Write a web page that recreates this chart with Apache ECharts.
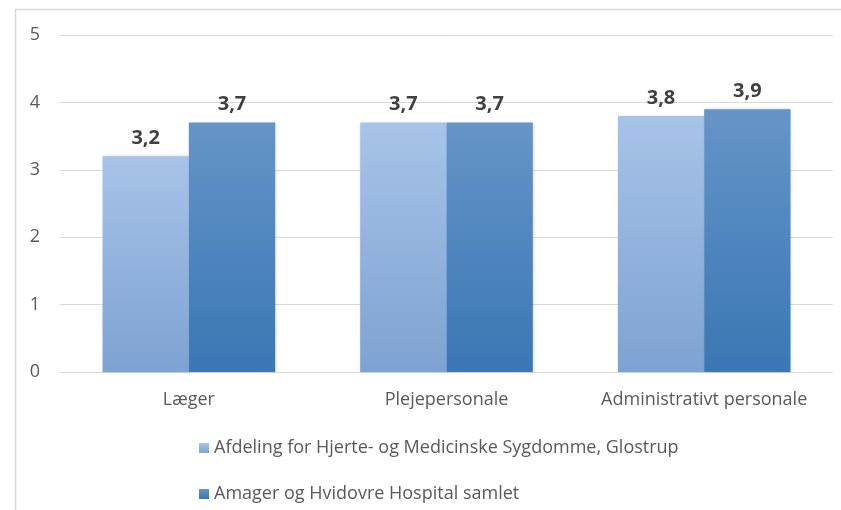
<!DOCTYPE html>
<html>
<head>
<meta charset="utf-8">
<script src="https://cdn.jsdelivr.net/npm/echarts@6/dist/echarts.min.js"></script>
<style>
  html, body { margin: 0; padding: 0; background: #fff; }
  #chart { width: 841px; height: 510px; }
</style>
</head>
<body>
<div id="chart"></div>
<script>
const categories = ['Læger', 'Plejepersonale', 'Administrativt personale']
const seriesNames = [
  'Afdeling for Hjerte- og Medicinske Sygdomme, Glostrup',
  'Amager og Hvidovre Hospital samlet'
]
const glostrupValues = [3.2, 3.7, 3.8]
const hospitalValues = [3.7, 3.7, 3.9]
const yTicks = [0, 1, 2, 3, 4, 5]

const fontFamily = '"Open Sans", Lato, sans-serif'

function gradient(top, bottom) {
  return new echarts.graphic.LinearGradient(0, 0, 0, 1, [
    { offset: 0, color: top },
    { offset: 1, color: bottom }
  ])
}

const chart = echarts.init(document.getElementById('chart'))

const labelStyle = {
  show: true,
  position: 'top',
  distance: 8,
  fontFamily,
  fontSize: 20,
  fontWeight: 'bold',
  color: '#404040',
  // danske decimaler med komma
  formatter: (p) => String(p.value).replace('.', ',')
}

chart.setOption({
  animation: false,
  textStyle: { fontFamily },
  graphic: [
    {
      type: 'rect',
      shape: { x: 15.5, y: 9.5, width: 900, height: 600 },
      style: { fill: 'none', stroke: '#d9d9d9', lineWidth: 1.5 },
      silent: true
    }
  ],
  grid: { left: 60, right: 8, top: 35, bottom: 138 },
  legend: {
    orient: 'vertical',
    left: 194,
    top: 434,
    itemWidth: 10,
    itemHeight: 10,
    itemGap: 28,
    icon: 'rect',
    textStyle: { fontFamily, fontSize: 18, color: '#595959' },
    data: seriesNames
  },
  xAxis: {
    type: 'category',
    data: categories,
    axisLine: { lineStyle: { color: '#d9d9d9', width: 1 } },
    axisTick: { show: false },
    axisLabel: { fontFamily, fontSize: 18, color: '#595959', margin: 19, interval: 0 }
  },
  yAxis: {
    type: 'value',
    min: yTicks[0],
    max: yTicks[yTicks.length - 1],
    interval: 1,
    axisLine: { show: false },
    axisTick: { show: false },
    axisLabel: { fontFamily, fontSize: 18, color: '#595959', margin: 20 },
    splitLine: { lineStyle: { color: '#d9d9d9', width: 1 } }
  },
  series: [
    {
      name: seriesNames[0],
      type: 'bar',
      data: glostrupValues,
      barGap: '0%',
      barCategoryGap: '33%',
      itemStyle: {
        color: gradient('#a7c3e8', '#7ea2d2'),
        shadowColor: 'rgba(0,0,0,0.18)',
        shadowBlur: 3,
        shadowOffsetX: 1
      },
      label: labelStyle
    },
    {
      name: seriesNames[1],
      type: 'bar',
      data: hospitalValues,
      itemStyle: {
        color: gradient('#6594c8', '#3a77b4'),
        shadowColor: 'rgba(0,0,0,0.18)',
        shadowBlur: 3,
        shadowOffsetX: 1
      },
      label: labelStyle
    }
  ]
})
</script>
</body>
</html>
